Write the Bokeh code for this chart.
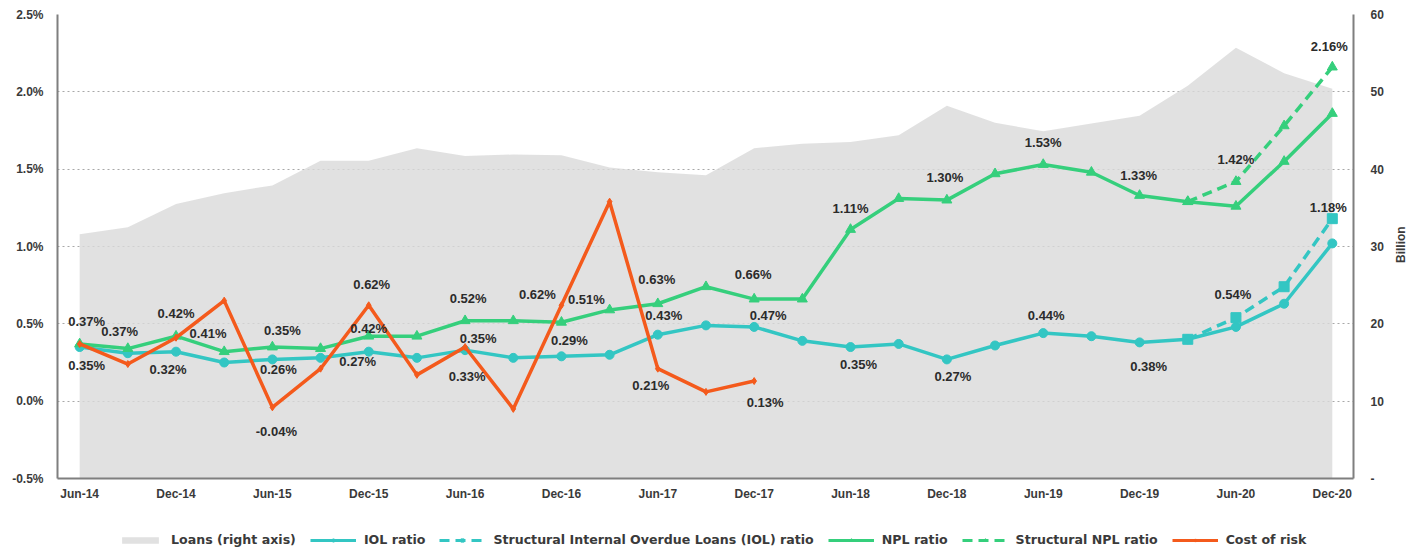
import math
from bokeh.plotting import figure
from bokeh.layouts import column, row
from bokeh.models import (Range1d, LinearAxis, FixedTicker, PrintfTickFormatter,
                          Legend, LegendItem, ColumnDataSource)
from bokeh.embed import file_html
from bokeh.resources import INLINE
from bokeh.core.properties import value

quarters = ["Jun-14", "Sep-14", "Dec-14", "Mar-15", "Jun-15", "Sep-15", "Dec-15",
            "Mar-16", "Jun-16", "Sep-16", "Dec-16", "Mar-17", "Jun-17", "Sep-17",
            "Dec-17", "Mar-18", "Jun-18", "Sep-18", "Dec-18", "Mar-19", "Jun-19",
            "Sep-19", "Dec-19", "Mar-20", "Jun-20", "Sep-20", "Dec-20"]

loans = [31.6, 32.5, 35.5, 36.9, 37.9, 41.1, 41.1, 42.7, 41.7, 41.9, 41.8, 40.2, 39.6, 39.2,
         42.7, 43.3, 43.5, 44.4, 48.2, 46.0, 44.9, 45.9, 46.9, 50.8, 55.7, 52.4, 50.4]

iol = [0.35, 0.31, 0.32, 0.25, 0.27, 0.28, 0.32, 0.28, 0.33, 0.28, 0.29, 0.30, 0.43, 0.49,
       0.48, 0.39, 0.35, 0.37, 0.27, 0.36, 0.44, 0.42, 0.38, 0.40, 0.48, 0.63, 1.02]

struct_iol = [None] * 23 + [0.40, 0.54, 0.74, 1.18]

npl = [0.37, 0.34, 0.42, 0.32, 0.35, 0.34, 0.42, 0.42, 0.52, 0.52, 0.51, 0.59, 0.63, 0.74,
       0.66, 0.66, 1.11, 1.31, 1.30, 1.47, 1.53, 1.48, 1.33, 1.29, 1.26, 1.55, 1.86]

struct_npl = [None] * 23 + [1.29, 1.42, 1.78, 2.16]

cost_of_risk = [0.37, 0.24, 0.41, 0.65, -0.04, 0.21, 0.62, 0.17, 0.35, -0.05, 0.62, 1.29,
                0.21, 0.06, 0.13]

legend_labels = ["Loans (right axis)", "IOL ratio",
                 "Structural Internal Overdue Loans (IOL) ratio", "NPL ratio",
                 "Structural NPL ratio", "Cost of risk"]
right_axis_title = "Billion"

# data labels: (series, quarter index, text, dx px, dy px)
labels = [
    ("cor", 0, "0.37%", 7, -22), ("npl", 0, "0.37%", 40, -12), ("iol", 0, "0.35%", 7, 18),
    ("iol", 2, "0.32%", -8, 18), ("npl", 2, "0.42%", 0, -23), ("cor", 2, "0.41%", 32, -4),
    ("npl", 4, "0.35%", 10, -17), ("iol", 4, "0.26%", 6, 10), ("cor", 4, "-0.04%", 4, 24),
    ("cor", 6, "0.62%", 3, -21), ("npl", 6, "0.42%", 0, -8), ("iol", 6, "0.27%", -11, 10),
    ("npl", 8, "0.52%", 3, -22), ("cor", 8, "0.35%", 13, -9), ("iol", 8, "0.33%", 2, 26),
    ("cor", 10, "0.62%", -24, -11), ("npl", 10, "0.51%", 25, -23), ("iol", 10, "0.29%", 8, -16),
    ("npl", 12, "0.63%", -1, -24), ("iol", 12, "0.43%", 6, -19), ("cor", 12, "0.21%", -7, 17),
    ("npl", 14, "0.66%", -1, -25), ("iol", 14, "0.47%", 14, -11), ("cor", 14, "0.13%", 11, 21),
    ("iol", 16, "0.35%", 8, 17), ("npl", 16, "1.11%", 0, -21),
    ("npl", 18, "1.30%", -2, -23), ("iol", 18, "0.27%", 6, 17),
    ("npl", 20, "1.53%", 0, -22), ("iol", 20, "0.44%", 3, -18),
    ("npl", 22, "1.33%", -1, -20), ("iol", 22, "0.38%", 9, 24),
    ("snpl", 24, "1.42%", 0, -22), ("siol", 24, "0.54%", -3, -23),
    ("snpl", 26, "2.16%", -3, -21), ("siol", 26, "1.18%", -4, -11),
]

TEAL = "#33C6C3"
GREEN = "#35CF7C"
ORANGE = "#F45A1C"
AREA = "#D9D9D9"
AXIS = "#7F7F7F"
TXT = "#3A3A3A"
FONT = "Liberation Sans"

xs = list(range(len(quarters)))

p = figure(width=1390, height=508, output_backend="svg", toolbar_location=None,
           x_range=Range1d(-0.46, 26.44), y_range=Range1d(-0.5, 2.5),
           min_border_left=57, min_border_right=37, min_border_top=14, min_border_bottom=30)
p.extra_y_ranges = {"loans": Range1d(0, 60)}
p.outline_line_alpha = 0
p.background_fill_color = "white"
p.border_fill_color = "white"

# grid
p.xgrid.visible = False
p.ygrid.ticker = FixedTicker(ticks=[-0.5, 0, 0.5, 1.0, 1.5, 2.0, 2.5])
p.ygrid.grid_line_color = "#A8A8A8"
p.ygrid.grid_line_dash = "2 3"
p.ygrid.grid_line_width = 1

# loans area
p.varea(x=xs, y1=[0] * len(xs), y2=loans, y_range_name="loans",
        fill_color=AREA, fill_alpha=0.8)

def sub(vals):
    pts = [(i, v) for i, v in enumerate(vals) if v is not None]
    return [a for a, _ in pts], [b for _, b in pts]

ix, iy = sub(struct_iol)
nx, ny = sub(struct_npl)
cx, cy = sub(cost_of_risk)

STYLES = {
    "iol": dict(color=TEAL, dash="solid", marker="circle", size=9),
    "siol": dict(color=TEAL, dash="10 6", marker="square", size=10),
    "npl": dict(color=GREEN, dash="solid", marker="triangle", size=10),
    "snpl": dict(color=GREEN, dash="10 6", marker="triangle", size=10),
    "cor": dict(color=ORANGE, dash="solid", marker="diamond", size=7),
}

def draw(fig, key, x, y, lw=3.5):
    st = STYLES[key]
    l = fig.line(x, y, line_color=st["color"], line_width=lw, line_dash=st["dash"])
    m = fig.scatter(x, y, marker=st["marker"], size=st["size"],
                    fill_color=st["color"], line_color=st["color"])
    return [l, m]

draw(p, "iol", xs, iol)
draw(p, "siol", ix, iy)
draw(p, "npl", xs, npl)
draw(p, "snpl", nx, ny)
draw(p, "cor", cx, cy)

series = {"iol": iol, "npl": npl, "cor": cost_of_risk,
          "siol": struct_iol, "snpl": struct_npl}
lsrc = ColumnDataSource(dict(
    x=[i for s, i, t, dx, dy in labels],
    y=[series[s][i] for s, i, t, dx, dy in labels],
    text=[t for s, i, t, dx, dy in labels],
    dx=[dx for s, i, t, dx, dy in labels],
    dy=[dy for s, i, t, dx, dy in labels],
))
p.text(x="x", y="y", text="text", x_offset="dx", y_offset="dy", source=lsrc,
       text_align="center", text_baseline="middle", text_font=value(FONT),
       text_font_size="13px", text_font_style="bold", text_color="#2B2B2B")

# axes
xa = p.xaxis[0]
xa.ticker = FixedTicker(ticks=list(range(0, 27, 2)))
xa.major_label_overrides = {i: quarters[i] for i in range(0, 27, 2)}
ya = p.yaxis[0]
ya.ticker = FixedTicker(ticks=[-0.5, 0, 0.5, 1.0, 1.5, 2.0, 2.5])
ya.formatter = PrintfTickFormatter(format="%.1f%%")

ra = LinearAxis(y_range_name="loans", ticker=FixedTicker(ticks=[0, 10, 20, 30, 40, 50, 60]),
                major_label_overrides={0: "-"})
p.add_layout(ra, "right")

for ax, standoff in ((xa, 8), (ya, 14), (ra, 17)):
    ax.axis_line_color = AXIS
    ax.axis_line_width = 2
    ax.major_tick_line_alpha = 0
    ax.minor_tick_line_alpha = 0
    ax.major_tick_out = 0
    ax.major_tick_in = 0
    ax.major_label_standoff = standoff
    ax.major_label_text_font = FONT
    ax.major_label_text_font_size = "12px"
    ax.major_label_text_font_style = "bold"
    ax.major_label_text_color = TXT

# right-axis title strip (text reads bottom-to-top)
bf = figure(width=30, height=508, output_backend="svg", toolbar_location=None,
            x_range=Range1d(0, 30), y_range=Range1d(0, 508),
            x_axis_type=None, y_axis_type=None,
            min_border_left=0, min_border_right=0, min_border_top=0, min_border_bottom=0)
bf.outline_line_alpha = 0
bf.xgrid.visible = False
bf.ygrid.visible = False
bf.text(x=[10], y=[256], text=[right_axis_title], angle=math.pi / 2,
        text_align="center", text_baseline="middle", text_font=value(FONT),
        text_font_size="12px", text_font_style="bold", text_color=TXT)

# legend strip (separate figure below the chart)
lf = figure(width=1420, height=40, output_backend="svg", toolbar_location=None,
            x_range=Range1d(0, 1), y_range=Range1d(0, 1),
            x_axis_type=None, y_axis_type=None,
            min_border_left=0, min_border_right=0, min_border_top=0, min_border_bottom=0)
lf.outline_line_alpha = 0
lf.xgrid.visible = False
lf.ygrid.visible = False
lf.background_fill_color = "white"
lf.border_fill_color = "white"

off = [5, 6]
r_area = lf.varea(x=off, y1=[5, 5], y2=[6, 6], fill_color=AREA, fill_alpha=0.8)
items = [LegendItem(label=legend_labels[0], renderers=[r_area])]
for lab, key in zip(legend_labels[1:], ["iol", "siol", "npl", "snpl", "cor"]):
    items.append(LegendItem(label=lab, renderers=draw(lf, key, off, off, lw=3)))

legend = Legend(items=items, orientation="horizontal", location=(117, 1))
legend.border_line_alpha = 0
legend.background_fill_alpha = 0
legend.label_text_font = "DejaVu Sans"
legend.label_text_font_size = "12.6px"
legend.label_text_font_style = "bold"
legend.label_text_color = TXT
legend.glyph_width = 46
legend.glyph_height = 8
legend.label_standoff = 8
legend.spacing = 14
legend.padding = 0
legend.margin = 0
lf.add_layout(legend, "center")

layout = column(row(p, bf, spacing=0), lf, spacing=0)
open("out.html", "w").write(file_html(layout, INLINE))
